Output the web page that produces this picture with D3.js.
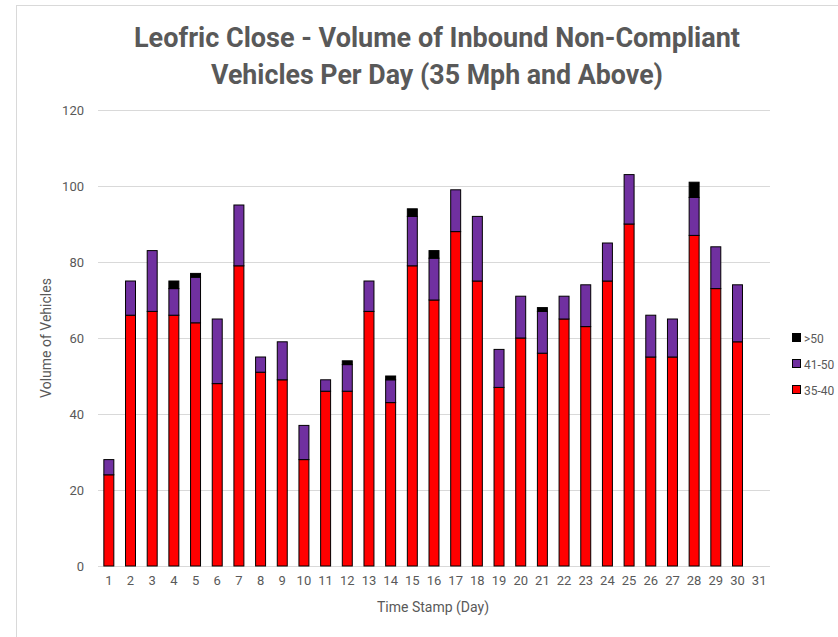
<!DOCTYPE html>
<html><head><meta charset="utf-8">
<script src="https://cdn.jsdelivr.net/npm/d3@7/dist/d3.min.js"></script>
<style>body{margin:0;background:#fff;}svg{display:block;}</style>
</head><body>
<svg id="c" width="838" height="637"></svg>
<script>
const days = d3.range(1, 32).map(String);
const s3540 = [24,66,67,66,64,48,79,51,49,28,46,46,67,43,79,70,88,75,47,60,56,65,63,75,90,55,55,87,73,59];
const s4150 = [4,9,16,7,12,17,16,4,10,9,3,7,8,6,13,11,11,17,10,11,11,6,11,10,13,11,10,10,11,15];
const s50 = [0,0,0,2,1,0,0,0,0,0,0,1,0,1,2,2,0,0,0,0,1,0,0,0,0,0,0,4,0,0];
const seriesNames = ["35-40","41-50",">50"];
const seriesColors = ["#FF0000","#7030A0","#000000"];
const yTicks = [0,20,40,60,80,100,120];
const titleLines = ["Leofric Close - Volume of Inbound Non-Compliant","Vehicles Per Day (35 Mph and Above)"];

const svg = d3.select("#c");
const font = "Roboto, 'Liberation Sans', sans-serif";
const txt = "#595959";

// outer chart border
svg.append("rect").attr("x",16.5).attr("y",5.5).attr("width",840).attr("height",640)
  .attr("fill","#fff").attr("stroke","#d9d9d9");

const m = {l:98, r:770, t:110, b:566};
const x = d3.scaleBand().domain(days).range([m.l, m.r]).paddingInner(0.54).paddingOuter(0.27);
const y = d3.scaleLinear().domain([0,120]).range([m.b, m.t]);

// gridlines
svg.append("g").selectAll("line").data(yTicks).join("line")
  .attr("x1",m.l).attr("x2",m.r).attr("y1",d=>y(d)+0.5).attr("y2",d=>y(d)+0.5)
  .attr("stroke","#d9d9d9").attr("stroke-width",1);

// y labels
const yAxis = d3.axisLeft(y).tickValues(yTicks).tickSize(0).tickPadding(14);
const gy = svg.append("g").attr("transform",`translate(${m.l},0)`).call(yAxis);
gy.select(".domain").remove();
gy.selectAll("text").attr("fill",txt).style("font-family",font).style("font-size","13px");

// x labels
const xAxis = d3.axisBottom(x).tickSize(0).tickPadding(10);
const gx = svg.append("g").attr("transform",`translate(0,${m.b})`).call(xAxis);
gx.select(".domain").remove();
gx.selectAll("text").attr("fill",txt).style("font-family",font).style("font-size","13px");

// stacked data
const table = s3540.map((v,i)=>({day:days[i], "35-40":v, "41-50":s4150[i], ">50":s50[i]}));
const stack = d3.stack().keys(seriesNames)(table);
svg.append("g").selectAll("g").data(stack).join("g")
  .attr("fill",(d,i)=>seriesColors[i])
  .selectAll("rect").data(d=>d.filter(p=>p[1]-p[0]>0)).join("rect")
  .attr("x",d=>x(d.data.day)).attr("width",x.bandwidth())
  .attr("y",d=>y(d[1])).attr("height",d=>y(d[0])-y(d[1]))
  .attr("stroke","#000").attr("stroke-width",1);

// title
const tw = [606, 452];
titleLines.forEach((t,i)=>{
  svg.append("text").attr("x",437).attr("y",47+i*37).attr("text-anchor","middle")
    .attr("fill",txt).style("font-family",font).style("font-weight","bold").style("font-size","27px")
    .attr("textLength",tw[i]).attr("lengthAdjust","spacingAndGlyphs").text(t);
});

// axis titles
svg.append("text").attr("transform","translate(51,338) rotate(-90)").attr("text-anchor","middle")
  .attr("fill",txt).style("font-family",font).style("font-size","14px").text("Volume of Vehicles");
svg.append("text").attr("x",433).attr("y",612).attr("text-anchor","middle")
  .attr("fill",txt).style("font-family",font).style("font-size","14px").text("Time Stamp (Day)");

// legend
const legendOrder = [2,1,0];
const lg = svg.append("g");
legendOrder.forEach((si,k)=>{
  const yy = 338 + k*26;
  lg.append("rect").attr("x",792.5).attr("y",yy-4.5).attr("width",8).attr("height",8)
    .attr("fill",seriesColors[si]).attr("stroke","#000").attr("stroke-width",1);
  lg.append("text").attr("x",804).attr("y",yy+4.5).attr("fill",txt)
    .style("font-family",font).style("font-size","12px").text(seriesNames[si]);
});
</script>
</body></html>
